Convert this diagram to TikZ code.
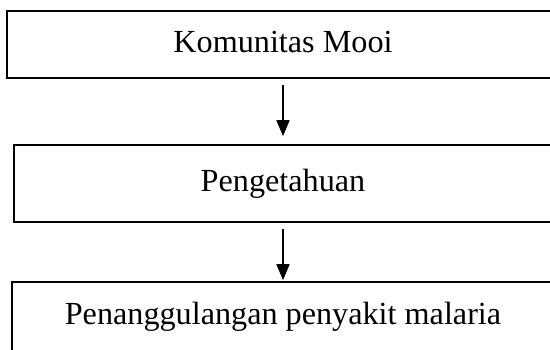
\documentclass[tikz,border=0pt]{standalone}
\usepackage{fontspec}
\setmainfont{Liberation Serif}
\usetikzlibrary{arrows.meta}
\begin{document}
\begin{tikzpicture}[x=1pt,y=-1pt,
  flowbox/.style={draw=black,line width=1.6pt,inner sep=0pt,
    font=\fontsize{32.2}{36}\selectfont,text height=22pt,text depth=7pt},
  flowarrow/.style={line width=1.6pt,-{Triangle[width=13pt,length=16pt]}}]
\useasboundingbox (0,0) rectangle (550,349);
\clip (0,0) rectangle (550,349);
\fill[white] (0,0) rectangle (550,349);
\node[flowbox,minimum width=552pt,minimum height=67pt] (a) at (283,44.5) {Komunitas Mooi};
\node[flowbox,minimum width=538pt,minimum height=77pt] (b) at (283,183.5) {Pengetahuan};
\node[flowbox,minimum width=542pt,minimum height=76pt,text depth=13pt] (c) at (283,320) {Penanggulangan penyakit malaria};
\draw[flowarrow,shorten <=6pt,shorten >=8pt] (a.south) -- (b.north);
\draw[flowarrow,shorten <=6pt,shorten >=1pt] (b.south) -- (c.north);
\end{tikzpicture}
\end{document}
